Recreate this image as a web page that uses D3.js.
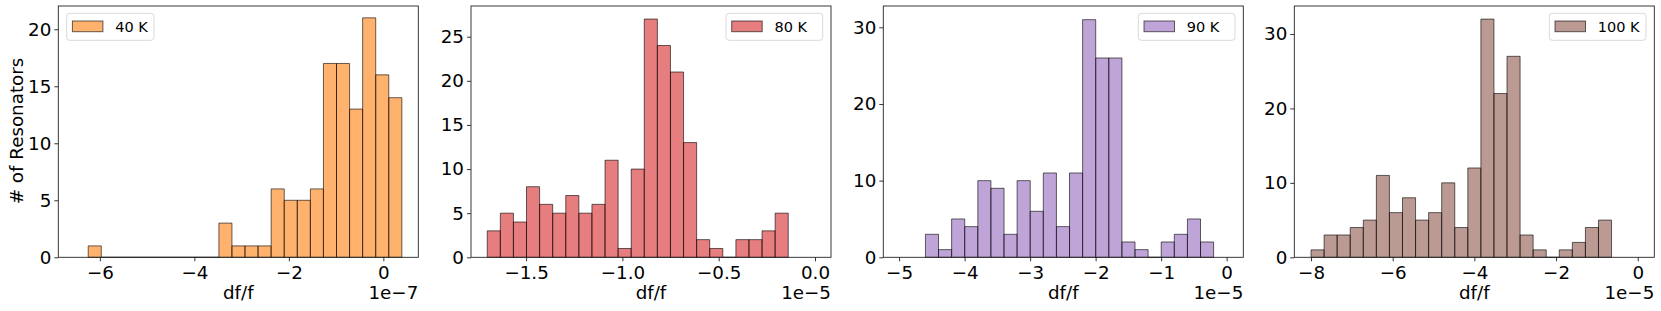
<!DOCTYPE html>
<html><head><meta charset="utf-8">
<script src="https://cdn.jsdelivr.net/npm/d3@7"></script>
<style>body{margin:0;background:#fff;} svg{display:block;font-family:"DejaVu Sans",sans-serif;}</style>
</head><body>
<svg id="chart" width="1661" height="311"></svg>
<script>
// ---- data (bin edges in units of the offset exponent) ----
const labels = ["40 K", "80 K", "90 K", "100 K"];
const colors = ["#ff7f0e", "#d62728", "#9467bd", "#8c564b"];
const offsets = ["1e\u22127", "1e\u22125", "1e\u22125", "1e\u22125"];
const counts40 = [1,0,0,0,0,0,0,0,0,0,3,1,1,1,6,5,5,6,17,17,13,21,16,14];
const counts80 = [3,5,4,8,6,5,7,5,6,11,1,10,27,24,21,13,2,1,0,2,2,3,5];
const counts90 = [3,1,5,4,10,9,3,10,6,11,4,11,31,26,26,2,1,0,2,3,5,2];
const counts100 = [1,3,3,4,5,11,6,8,5,6,10,4,12,32,22,27,3,1,0,1,2,4,5];
const binRange40 = [-6.247, 0.392];
const binRange80 = [-1.7016, -0.139];
const binRange90 = [-4.598, -0.199];
const binRange100 = [-8.0, -0.641];
const xDomain40 = [-6.88, 0.74], xDomain80 = [-1.786, 0.083], xDomain90 = [-5.241, 0.254], xDomain100 = [-8.41, 0.406];
const yMax40 = 22.04, yMax80 = 28.48, yMax90 = 32.78, yMax100 = 33.76;
const xTicks40 = [-6,-4,-2,0], xTicks80 = [-1.5,-1.0,-0.5,0.0], xTicks90 = [-5,-4,-3,-2,-1,0], xTicks100 = [-8,-6,-4,-2,0];
const yTicks40 = [0,5,10,15,20], yTicks80 = [0,5,10,15,20,25], yTicks90 = [0,10,20,30], yTicks100 = [0,10,20,30];

const panels = [
  {counts: counts40, range: binRange40, xd: xDomain40, ymax: yMax40, xt: xTicks40, yt: yTicks40, dec: 0, left: 58.3, legend: "left"},
  {counts: counts80, range: binRange80, xd: xDomain80, ymax: yMax80, xt: xTicks80, yt: yTicks80, dec: 1, left: 471, legend: "right"},
  {counts: counts90, range: binRange90, xd: xDomain90, ymax: yMax90, xt: xTicks90, yt: yTicks90, dec: 0, left: 883.3, legend: "right"},
  {counts: counts100, range: binRange100, xd: xDomain100, ymax: yMax100, xt: xTicks100, yt: yTicks100, dec: 0, left: 1294.3, legend: "right"}
];

const svg = d3.select("#chart");
const W = 360, plotTop = 6, plotBottom = 257.3, FS = 18.3;
const fmtMinus = (v, dec) => { const s = d3.format("." + dec + "f")(Math.abs(v)); return (v < 0 ? "\u2212" : "") + s; };

panels.forEach((p, i) => {
  const x = d3.scaleLinear().domain(p.xd).range([p.left, p.left + W]);
  const y = d3.scaleLinear().domain([0, p.ymax]).range([plotBottom, plotTop]);
  const g = svg.append("g");
  const n = p.counts.length;
  const bw = (p.range[1] - p.range[0]) / n;
  const bins = p.counts.map((c, k) => ({x0: p.range[0] + k * bw, x1: p.range[0] + (k + 1) * bw, c}));
  g.selectAll("path.bar").data(bins).join("path").attr("class", "bar")
    .attr("d", d => `M${x(d.x0)},${y(0)}V${y(d.c)}H${x(d.x1)}V${y(0)}Z`)
    .attr("fill", colors[i]).attr("fill-opacity", 0.6)
    .attr("stroke", "#000").attr("stroke-opacity", 0.6).attr("stroke-width", 1);

  // axes
  const xa = d3.axisBottom(x).tickValues(p.xt).tickSize(4).tickPadding(3).tickFormat(v => fmtMinus(v, p.dec));
  const ya = d3.axisLeft(y).tickValues(p.yt).tickSize(4).tickPadding(3).tickFormat(v => fmtMinus(v, 0));
  const gx = g.append("g").attr("transform", `translate(0,${plotBottom})`).call(xa);
  const gy = g.append("g").attr("transform", `translate(${p.left},0)`).call(ya);
  [gx, gy].forEach(a => {
    a.select(".domain").remove();
    a.selectAll("line").attr("stroke", "#000").attr("stroke-width", 0.8);
    a.selectAll("text").attr("font-size", FS).attr("fill", "#000").attr("font-family", "DejaVu Sans");
  });
  gx.selectAll("text").attr("dy", "0.78em");
  g.append("rect").attr("x", p.left).attr("y", plotTop).attr("width", W).attr("height", plotBottom - plotTop)
    .attr("fill", "none").attr("stroke", "#222").attr("stroke-width", 0.9);

  // labels
  g.append("text").attr("x", p.left + W / 2).attr("y", 299).attr("text-anchor", "middle")
    .attr("font-size", FS).text("df/f");
  g.append("text").attr("x", p.left + W).attr("y", 299).attr("text-anchor", "end")
    .attr("font-size", FS).text(offsets[i]);

  // legend
  const lw = p.legend === "left" ? 87.3 : 96.7;
  const lx = p.legend === "left" ? p.left + 8.4 : p.left + W - 8.3 - lw;
  const lg = g.append("g").attr("transform", `translate(${lx},13.3)`);
  lg.append("rect").attr("width", lw).attr("height", 27).attr("rx", 3)
    .attr("fill", "#fff").attr("fill-opacity", 0.8).attr("stroke", "#d9d9d9").attr("stroke-width", 1);
  lg.append("rect").attr("x", 5.7).attr("y", 7.7).attr("width", 30.5).attr("height", 10.7)
    .attr("fill", colors[i]).attr("fill-opacity", 0.6).attr("stroke", "#000").attr("stroke-opacity", 0.6).attr("stroke-width", 1);
  lg.append("text").attr("x", 48.5).attr("y", 18.5).attr("font-size", 14.5).text(labels[i]);
});

svg.append("text").attr("transform", "translate(22.5,131) rotate(-90)").attr("text-anchor", "middle")
  .attr("font-size", FS).text("# of Resonators");
</script>
</body></html>
